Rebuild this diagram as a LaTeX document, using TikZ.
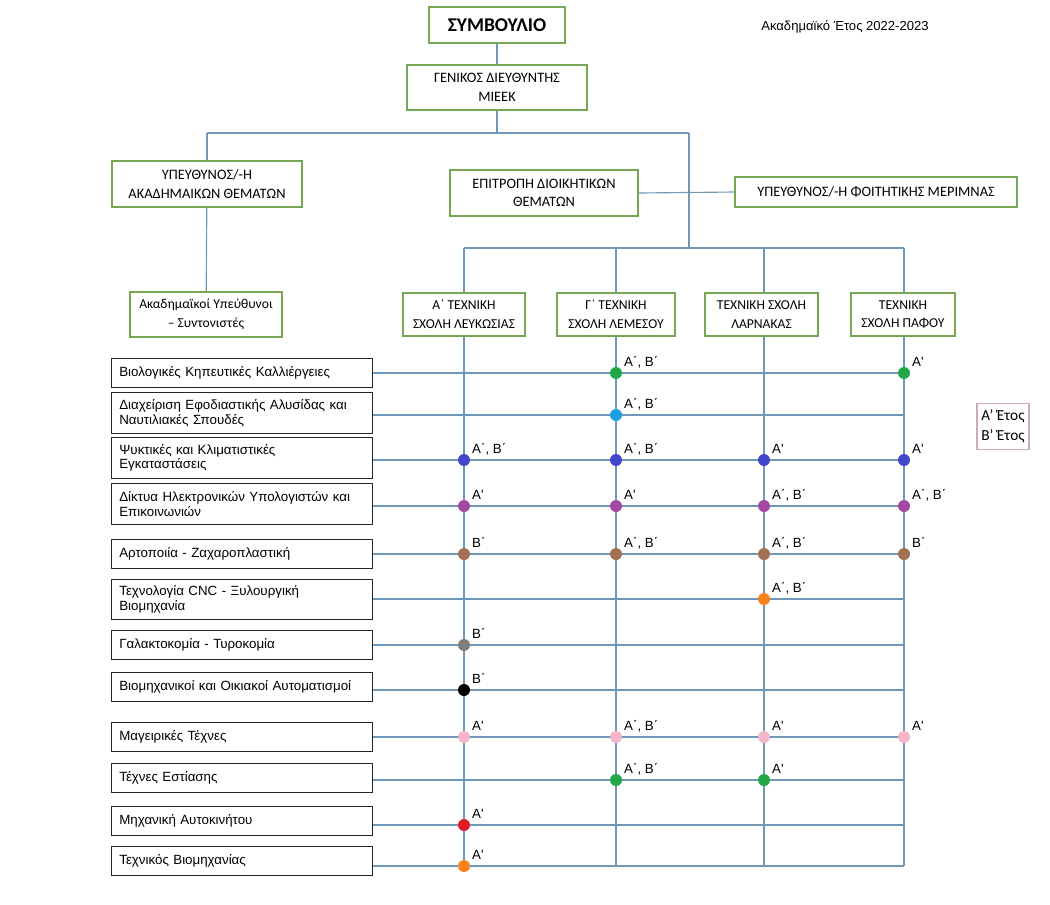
\documentclass[tikz,border=0pt]{standalone}
\usepackage{fontspec}
\setmainfont{Carlito}
\newfontfamily\arialfont{Liberation Sans}
\usetikzlibrary{positioning}

\definecolor{linkblue}{RGB}{112,152,186}
\definecolor{boxgreen}{RGB}{118,166,84}
\definecolor{dgreen}{RGB}{34,168,74}
\definecolor{dcyan}{RGB}{27,161,226}
\definecolor{dblue}{RGB}{63,72,204}
\definecolor{dpurple}{RGB}{163,73,164}
\definecolor{dbrown}{RGB}{164,112,82}
\definecolor{dorange}{RGB}{247,130,30}
\definecolor{dgray}{RGB}{127,127,127}
\definecolor{dpink}{RGB}{245,182,202}
\definecolor{dred}{RGB}{224,28,36}
\definecolor{legendpink}{RGB}{204,170,186}

\begin{document}
\begin{tikzpicture}
    [x=0.75pt, y=-0.75pt,
    link/.style={draw=linkblue, line width=0.85pt},
    orgbox/.style={draw=boxgreen, line width=1pt, align=center, font=\fontsize{10.8}{14}\selectfont, inner sep=2pt},
    school/.style={orgbox, font=\fontsize{10.2}{14}\selectfont, minimum height=32.25pt},
    course/.style={draw=black!85, line width=1.2pt, align=left, text width=184pt, inner xsep=6pt, inner ysep=2pt, font=\arialfont\fontsize{10}{11}\selectfont, minimum height=22pt},
    dot/.style={circle, inner sep=0pt, minimum size=9pt},
    lbl/.style={anchor=base west, inner sep=0pt, label distance=0pt, xshift=2.6pt, yshift=1.2pt, font=\arialfont\fontsize{10}{11}\selectfont},
    yr/.style={label={[lbl]north east:#1}}]
        \useasboundingbox (0,0) rectangle (1050,904);

        %% Top of the chart
        \node[orgbox, minimum width=102pt, minimum height=27pt, font=\bfseries\fontsize{14.6}{16}\selectfont] (sym) at (497,25) {ΣΥΜΒΟΥΛΙΟ};
        \node[font=\arialfont\fontsize{9.8}{11}\selectfont] (year) at (845,27) {Ακαδημαϊκό Έτος 2022-2023};
        \node[orgbox, minimum width=135pt, minimum height=33.75pt] (gen) at (497,87.5) {ΓΕΝΙΚΟΣ ΔΙΕΥΘΥΝΤΗΣ\\ΜΙΕΕΚ};
        \node[orgbox, minimum width=142.5pt, minimum height=34.5pt] (acad) at (207,184) {ΥΠΕΥΘΥΝΟΣ/-Η\\ΑΚΑΔΗΜΑΙΚΩΝ ΘΕΜΑΤΩΝ};
        \node[school, minimum width=114pt, minimum height=33.75pt] (coord) at (206,314.5) {Ακαδημαϊκοί Υπεύθυνοι\\– Συντονιστές};
        \node[orgbox, minimum width=141pt, minimum height=34.5pt] (epit) at (544,193) {ΕΠΙΤΡΟΠΗ ΔΙΟΙΚΗΤΙΚΩΝ\\ΘΕΜΑΤΩΝ};
        \node[orgbox, minimum width=211.5pt, minimum height=22.5pt] (foit) at (876,192) {ΥΠΕΥΘΥΝΟΣ/-Η ΦΟΙΤΗΤΙΚΗΣ ΜΕΡΙΜΝΑΣ};

        %% Schools
        \node[school, minimum width=91.5pt] (schA) at (464,314.5) {Α΄ ΤΕΧΝΙΚΗ\\ΣΧΟΛΗ ΛΕΥΚΩΣΙΑΣ};
        \node[school, minimum width=88.5pt] (schG) at (616,314.5) {Γ΄ ΤΕΧΝΙΚΗ\\ΣΧΟΛΗ ΛΕΜΕΣΟΥ};
        \node[school, minimum width=84.75pt] (schL) at (761.5,314.5) {ΤΕΧΝΙΚΗ ΣΧΟΛΗ\\ΛΑΡΝΑΚΑΣ};
        \node[school, minimum width=78pt] (schP) at (903,314.5) {ΤΕΧΝΙΚΗ\\ΣΧΟΛΗ ΠΑΦΟΥ};

        %% Legend
        \node[draw=legendpink, line width=0.8pt, align=left, inner sep=1.5pt, minimum width=39pt, minimum height=35pt, font=\fontsize{11.5}{15}\selectfont] (legend) at (1003,426.5) {Α' Έτος\\Β' Έτος};

        %% Courses
        \node[course] (c1) at (242,373) {Βιολογικές Κηπευτικές Καλλιέργειες};
        \node[course, minimum height=30.75pt] (c2) at (242,413) {Διαχείριση Εφοδιαστικής Αλυσίδας και\\Ναυτιλιακές Σπουδές};
        \node[course, minimum height=31pt] (c3) at (242,458) {Ψυκτικές και Κλιματιστικές\\Εγκαταστάσεις};
        \node[course, minimum height=31pt] (c4) at (242,504) {Δίκτυα Ηλεκτρονικών Υπολογιστών και\\Επικοινωνιών};
        \node[course] (c5) at (242,554) {Αρτοποιία - Ζαχαροπλαστική};
        \node[course, minimum height=30pt] (c6) at (242,599.5) {Τεχνολογία CNC - Ξυλουργική\\Βιομηχανία};
        \node[course] (c7) at (242,645) {Γαλακτοκομία - Τυροκομία};
        \node[course] (c8) at (242,687) {Βιομηχανικοί και Οικιακοί Αυτοματισμοί};
        \node[course] (c9) at (242,737) {Μαγειρικές Τέχνες};
        \node[course] (c10) at (242,778) {Τέχνες Εστίασης};
        \node[course] (c11) at (242,821) {Μηχανική Αυτοκινήτου};
        \node[course] (c12) at (242,861) {Τεχνικός Βιομηχανίας};

        %% Junctions
        \coordinate (j0) at (497,133);
        \coordinate (jL) at (207,133);
        \coordinate (jR) at (689,133);
        \coordinate (jS) at (689,248);
        \coordinate (sA) at (464,248);
        \coordinate (sG) at (616,248);
        \coordinate (sL) at (764,248);
        \coordinate (sP) at (904,248);
        \coordinate (bA) at (464,866);
        \coordinate (bG) at (616,866);
        \coordinate (bL) at (764,866);
        \coordinate (bP) at (904,866);

        %% Tree links
        \draw[link] (sym) -- (gen);
        \draw[link] (gen) -- (j0);
        \draw[link] (jL) -- (jR);
        \draw[link] (jL) -- (acad);
        \draw[link] (acad) -- (coord);
        \draw[link] (jR) -- (jS);
        \draw[link] (epit.east) -- (foit.west);
        \draw[link] (sA) -- (sP);
        \draw[link] (sA) -- (schA);
        \draw[link] (sG) -- (schG);
        \draw[link] (sL) -- (sL |- schL.north);
        \draw[link] (sP) -- (sP |- schP.north);
        \draw[link] (schA) -- (bA);
        \draw[link] (schG) -- (bG);
        \draw[link] (sL |- schL.south) -- (bL);
        \draw[link] (sP |- schP.south) -- (bP);

        %% Course rows
        \draw[link] (c1.east |- 0,373) -- (904,373) coordinate (r1);
        \draw[link] (c2.east |- 0,415) -- (904,415) coordinate (r2);
        \draw[link] (c3.east |- 0,460) -- (904,460) coordinate (r3);
        \draw[link] (c4.east |- 0,506) -- (904,506) coordinate (r4);
        \draw[link] (c5.east |- 0,554) -- (904,554) coordinate (r5);
        \draw[link] (c6.east |- 0,599) -- (904,599) coordinate (r6);
        \draw[link] (c7.east |- 0,645) -- (904,645) coordinate (r7);
        \draw[link] (c8.east |- 0,690) -- (904,690) coordinate (r8);
        \draw[link] (c9.east |- 0,737) -- (904,737) coordinate (r9);
        \draw[link] (c10.east |- 0,780) -- (904,780) coordinate (r10);
        \draw[link] (c11.east |- 0,825) -- (904,825) coordinate (r11);
        \draw[link] (c12.east |- 0,866) -- (bP);

        %% Year dots
        \node[dot, fill=dgreen, yr={Α΄, Β΄}] (d1G) at (sG |- r1) {};
        \node[dot, fill=dgreen, yr={Α'}] (d1P) at (sP |- r1) {};
        \node[dot, fill=dcyan, yr={Α΄, Β΄}] (d2G) at (sG |- r2) {};
        \node[dot, fill=dblue, yr={Α΄, Β΄}] (d3A) at (sA |- r3) {};
        \node[dot, fill=dblue, yr={Α΄, Β΄}] (d3G) at (sG |- r3) {};
        \node[dot, fill=dblue, yr={Α'}] (d3L) at (sL |- r3) {};
        \node[dot, fill=dblue, yr={Α'}] (d3P) at (sP |- r3) {};
        \node[dot, fill=dpurple, yr={Α'}] (d4A) at (sA |- r4) {};
        \node[dot, fill=dpurple, yr={Α'}] (d4G) at (sG |- r4) {};
        \node[dot, fill=dpurple, yr={Α΄, Β΄}] (d4L) at (sL |- r4) {};
        \node[dot, fill=dpurple, yr={Α΄, Β΄}] (d4P) at (sP |- r4) {};
        \node[dot, fill=dbrown, yr={Β΄}] (d5A) at (sA |- r5) {};
        \node[dot, fill=dbrown, yr={Α΄, Β΄}] (d5G) at (sG |- r5) {};
        \node[dot, fill=dbrown, yr={Α΄, Β΄}] (d5L) at (sL |- r5) {};
        \node[dot, fill=dbrown, yr={Β΄}] (d5P) at (sP |- r5) {};
        \node[dot, fill=dorange, yr={Α΄, Β΄}] (d6L) at (sL |- r6) {};
        \node[dot, fill=dgray, yr={Β΄}] (d7A) at (sA |- r7) {};
        \node[dot, fill=black, yr={Β΄}] (d8A) at (sA |- r8) {};
        \node[dot, fill=dpink, yr={Α'}] (d9A) at (sA |- r9) {};
        \node[dot, fill=dpink, yr={Α΄, Β΄}] (d9G) at (sG |- r9) {};
        \node[dot, fill=dpink, yr={Α'}] (d9L) at (sL |- r9) {};
        \node[dot, fill=dpink, yr={Α'}] (d9P) at (sP |- r9) {};
        \node[dot, fill=dgreen, yr={Α΄, Β΄}] (d10G) at (sG |- r10) {};
        \node[dot, fill=dgreen, yr={Α'}] (d10L) at (sL |- r10) {};
        \node[dot, fill=dred, yr={Α'}] (d11A) at (sA |- r11) {};
        \node[dot, fill=dorange, yr={Α'}] (d12A) at (bA) {};
    \end{tikzpicture}
\end{document}
